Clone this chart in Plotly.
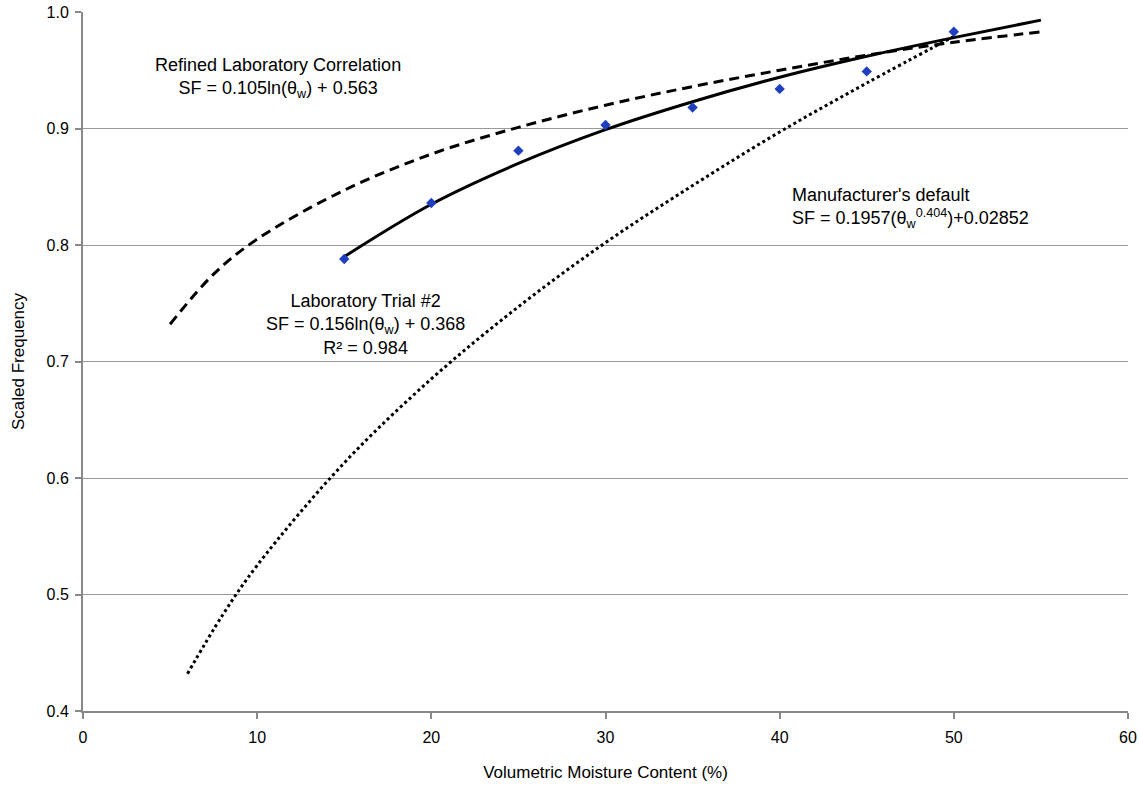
import plotly.graph_objects as go

# Measured data points (Laboratory Trial #2)
trial_x = [15, 20, 25, 30, 35, 40, 45, 50]
trial_y = [0.788, 0.836, 0.881, 0.903, 0.918, 0.934, 0.949, 0.983]

# Refined Laboratory Correlation curve
refined_x = [5, 7.5, 10, 15, 20, 25, 30, 35, 40, 45, 50, 55]
refined_y = [0.732, 0.775, 0.805, 0.847, 0.878, 0.901, 0.920, 0.936, 0.950, 0.963, 0.974, 0.983]

# Laboratory Trial #2 fit curve
fit_x = [15, 20, 25, 30, 35, 40, 45, 50, 55]
fit_y = [0.790, 0.835, 0.870, 0.899, 0.923, 0.944, 0.962, 0.978, 0.993]

# Manufacturer's default curve
manu_x = [6, 8, 10, 15, 20, 25, 30, 35, 40, 45, 50]
manu_y = [0.432, 0.482, 0.525, 0.613, 0.685, 0.747, 0.802, 0.851, 0.897, 0.939, 0.979]

x_ticks = [0, 10, 20, 30, 40, 50, 60]
y_ticks = [0.4, 0.5, 0.6, 0.7, 0.8, 0.9, 1.0]

FONT = "Liberation Sans, Arial, Helvetica, sans-serif"

fig = go.Figure()
fig.add_trace(go.Scatter(x=manu_x, y=manu_y, mode="lines", line=dict(color="black", width=3, dash="dot", shape="spline"), showlegend=False))
fig.add_trace(go.Scatter(x=refined_x, y=refined_y, mode="lines", line=dict(color="black", width=3, dash="10px,6px", shape="spline"), showlegend=False))
fig.add_trace(go.Scatter(x=fit_x, y=fit_y, mode="lines", line=dict(color="black", width=3, shape="spline"), showlegend=False))
fig.add_trace(go.Scatter(x=trial_x, y=trial_y, mode="markers", marker=dict(symbol="diamond", color="#1f3fbf", size=8), showlegend=False))

font_main = dict(family=FONT, size=18, color="black")
fig.add_annotation(x=11.2, y=0.943, xref="x", yref="y", showarrow=False, align="center",
                   text="Refined Laboratory Correlation<br>SF = 0.105ln(θ<sub>w</sub>) + 0.563", font=font_main)
fig.add_annotation(x=40.6, y=0.832, xref="x", yref="y", showarrow=False, align="left", xanchor="left",
                   text="Manufacturer's default<br>SF = 0.1957(θ<sub>w</sub><sup>0.404</sup>)+0.02852", font=font_main)
fig.add_annotation(x=16.2, y=0.732, xref="x", yref="y", showarrow=False, align="center",
                   text="Laboratory Trial #2<br>SF = 0.156ln(θ<sub>w</sub>) + 0.368<br>R² = 0.984", font=font_main)

fig.update_layout(
    width=1139, height=786,
    margin=dict(l=83, r=11, t=12, b=75, autoexpand=False),
    plot_bgcolor="white", paper_bgcolor="white",
    font=dict(family=FONT, size=16, color="black"),
)
fig.update_xaxes(range=[0, 60], tickvals=x_ticks, ticks="outside", ticklen=6, tickcolor="#888", tickwidth=2,
                 ticklabelstandoff=5,
                 showline=True, linecolor="#888", linewidth=2, showgrid=False, zeroline=False, automargin=False,
                 title=dict(text="Volumetric Moisture Content (%)", font=dict(size=17), standoff=21),
                 tickfont=dict(size=16))
fig.update_yaxes(range=[0.4, 1.0], tickvals=y_ticks, tickformat=".1f", ticks="outside", ticklen=6, tickcolor="#888", tickwidth=2,
                 ticklabelstandoff=3,
                 showline=True, linecolor="#888", linewidth=2, showgrid=True, gridcolor="#999", gridwidth=1.2,
                 zeroline=False, automargin=False,
                 title=dict(text="Scaled Frequency", font=dict(size=17), standoff=18),
                 tickfont=dict(size=16))

fig.write_html("out.html", config={"displayModeBar": False},
               post_script="document.body.style.margin='0';document.body.style.overflow='hidden';")
